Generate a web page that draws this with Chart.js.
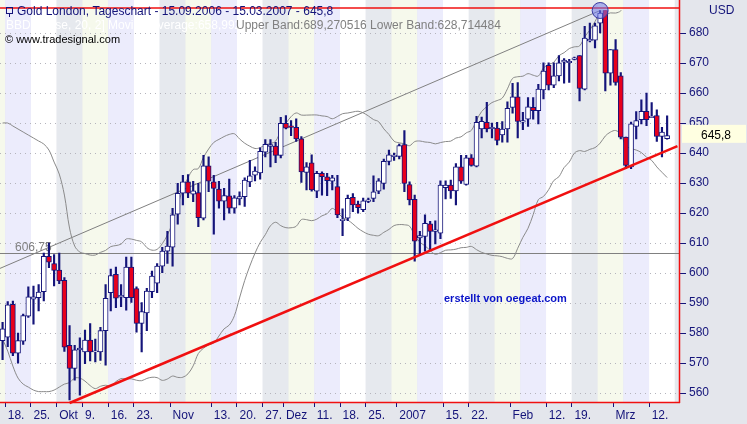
<!DOCTYPE html>
<html><head><meta charset="utf-8">
<script src="https://cdn.jsdelivr.net/npm/chart.js@4.4.1/dist/chart.umd.min.js"></script>
<style>html,body{margin:0;padding:0;background:#e4e6ec}canvas{display:block}</style>
</head><body>
<canvas id="c" width="747" height="424"></canvas>
<script>
const opens=[577.5,578.6,589.6,573.3,577.3,585.6,591.3,591.8,593.8,605.6,603.2,601,597.6,575.9,568.2,574.6,573.7,577.7,573.9,573.7,580.8,593.5,599.6,592.2,591.8,602,594.8,583.2,586.7,593.8,596.6,602.3,607.3,608.6,619.6,
626.6,630.4,626.3,626.8,618.3,635.7,630.4,628,624,625.7,621.6,624.7,625.5,630.4,632.6,633.4,640.3,642.2,642.3,639.2,649.9,648.9,648.6,644.7,633.5,636.7,627.3,633.2,632.1,630.6,628.8,617.5,
618.3,625.2,623,621.1,624.1,624.9,627.3,629.9,637.2,639,638.9,642.8,629.5,624.6,611.7,612.2,616.4,614.1,613.3,628.5,629.3,627.4,635.4,629.5,638.4,635.6,648,650.2,
648.3,648.3,646,648,655.2,658.7,
650.5,651.3,655.2,654.1,661,669.2,662.6,665.7,670.3,670.3,671.4,672.5,661.3,677.6,677.6,683.3,688.2,666.6,674.5,665.7,645.3,635.4,648.9,651.1,653.9,652,652.5,645.5,644.8];
const highs=[583.6,590.5,590.7,580,586.3,595.4,595.7,596.2,606.7,610,606.2,606.7,598.5,582.5,575.9,578.4,581,583.2,578,581.9,596.2,601.3,602,596.2,605.3,605.3,595.4,590.2,594.9,600.7,603.2,608.6,613.9,621.6,629.9,
632.6,632.8,630.6,629.9,639.2,638.7,632.6,630.6,628.2,631.3,625.8,627.1,631.7,637.6,635.4,641.7,644.5,644.5,643.6,651.9,652.5,650.8,651.4,645.5,636.8,639.4,633.9,633.7,633.2,632.6,632.6,621.4,
626,626.5,624,625,625,632.4,631.5,638,641,640,643,647.5,630.4,626,613.9,619.4,617.2,617.4,630.7,630.7,631,636.5,639.2,639.2,639.5,652.2,652,656.9,
650,650.2,650.5,657.1,663.2,663.5,
653.6,658.5,658.5,662.9,670.1,670.1,670.1,672.5,671.5,671.2,672,672.5,682.2,683.3,683.3,688.3,689,674.5,677.8,666.8,645.3,650.3,653.8,657.7,660,656.8,654.4,648.6,652.4];
const lows=[571.1,575.5,572.5,570,576.2,585.2,583,587.4,590.7,601.8,595.7,596.5,573.9,557.7,564.3,559.3,569.8,570.7,570.4,570.9,569.3,587.4,588.5,588.8,587.6,590.2,580.3,573.7,580.8,591.8,593.5,600.1,603.2,602.3,616.3,
622.7,625.1,623.8,615.5,617.7,627.1,613,621.6,617.7,620,620,622.7,622.2,628.8,630.7,631.3,638.7,635.4,636.8,638.4,648,645.8,643.9,630.2,627.7,627.3,625.1,626,625.8,627.7,618.5,612.5,
617.5,620.5,620,620.5,623.5,623.8,626.5,628,636,637.5,638,627.1,622.7,604,606,607.3,607.5,609.7,611.5,624.7,624.9,622.7,629.9,629.3,635.6,635.4,645,647,
645,642.7,643.6,643.6,653.3,645,
647.8,648.9,651.3,649.7,658,661,661.8,664,663.3,663.5,671,657.4,661,677,675,680,660.7,662.6,662.6,644.7,634.8,634.8,644.7,649.7,649.1,651.9,643.9,638.7,644.6];
const closes=[581.4,589.4,573.3,577.5,585.8,592.1,592.1,593.7,605.6,603.6,600.9,597.4,575.3,568.2,574.4,574.8,577.7,573.7,573.9,580.8,591.6,599.2,591.6,592.4,602,591.8,583.2,587.2,594,599,602.3,607.3,609,619.4,626.6,
630.4,626.6,627.4,618.5,635.7,630.6,628.2,624,625.8,621.6,625.1,625.5,631,632.4,634,640.6,642.9,642.8,639.2,649.9,648.3,648.7,644.7,633.7,635.4,627.7,633.2,632.1,630.8,631.7,619.4,617.9,
624.9,622.7,621.8,624.1,624.2,627.1,630.7,637.2,639.4,639.1,642.5,629.9,624.4,610.6,612.5,616.6,613.9,614.2,629.3,629.3,627.4,635.4,630.6,638.4,635.9,650.2,650.6,648,
648.4,644.2,648,654.9,658.7,650.5,
650.6,655.4,654.1,661.3,667.3,662.6,665.7,670.1,671,670.4,671.5,661.5,678.3,677.7,682.4,686.6,666.6,674.5,663.5,645.3,635.9,649.7,650.8,653.9,651.1,652.1,645.5,647,645.8];
// Bollinger band values for the first 19 days (before 20 closes exist)
const upperStart=[650,650,649,648,647,646,645,644,643,641,637,633,626,615,609,607,606.5,606,606];
const lowerStart=[578,574,569,565,563,562,561,560.5,560.5,560.5,561,562,563,563.5,565,565,564,562.5,561.5];
const tickLabels={'2006-09-18':'18.','2006-09-25':'25.','2006-10-02':'Okt','2006-10-09':'9.','2006-10-16':'16.','2006-10-23':'23.','2006-11-01':'Nov','2006-11-13':'13.','2006-11-20':'20.','2006-11-27':'27.','2006-12-01':'Dez','2006-12-11':'11.','2006-12-18':'18.','2006-12-25':'25.','2007-01-02':'2007','2007-01-15':'15.','2007-01-22':'22.','2007-02-01':'Feb','2007-02-12':'12.','2007-02-19':'19.','2007-03-01':'Mrz','2007-03-12':'12.'};
const yTicks=[560,565,570,575,580,585,590,595,600,605,610,615,620,625,630,635,640,645,650,655,660,665,670,675,680];
const hLevel=606.75, topLevel=688.3, lastValue='645,8';
const upperTrend=[[0,601.5],[116,687.5]];
const supportTrend=[[13,556.7],[131,642.3]];
const peakMark=[116,687.5];

const labels=[];const d=new Date(Date.UTC(2006,8,15));
while(labels.length<132){const w=d.getUTCDay();if(w>0&&w<6)labels.push(d.toISOString().slice(0,10));d.setUTCDate(d.getUTCDate()+1);}
const upper=[],lower=[];
for(let i=0;i<closes.length;i++){
  if(i<19){upper.push(upperStart[i]);lower.push(lowerStart[i]);continue;}
  const w=closes.slice(i-19,i+1);const m=w.reduce((a,b)=>a+b,0)/20;
  const sd=Math.sqrt(w.reduce((a,b)=>a+(b-m)*(b-m),0)/20);
  upper.push(m+2*sd);lower.push(m-2*sd);
}
const navy='#14147a';
const bodies=opens.map((o,i)=>{let a=Math.min(o,closes[i]),b=Math.max(o,closes[i]);if(b-a<0.35){a-=0.2;b+=0.2;}return [a,b];});
const wicks=lows.map((l,i)=>[l,highs[i]]);
const bodyColors=opens.map((o,i)=>closes[i]<o?'#e8001c':'#ffffff');

const deco={id:'deco',
beforeDraw(ch){const c=ch.ctx,a=ch.chartArea,x=ch.scales.x;
  c.save();c.fillStyle='#e4e6ec';c.fillRect(0,0,ch.width,ch.height);
  const cols=['#ececfc','#ffffff','#e6e9ee','#f6f9ec'];
  const half=(x.getPixelForValue(1)-x.getPixelForValue(0))/2;
  let start=a.left,wk=3;
  for(let i=0;i<=labels.length;i++){
    const isMon=i<labels.length&&new Date(labels[i]).getUTCDay()===1;
    if(isMon||i===labels.length){const e=i===labels.length?a.right:x.getPixelForValue(i)-half;
      c.fillStyle=cols[((wk%4)+4)%4];c.fillRect(start,0,e-start,a.bottom);start=e;wk++;}
  }
  c.restore();},
beforeDatasetsDraw(ch){const c=ch.ctx,a=ch.chartArea,x=ch.scales.x,y=ch.scales.y;
  c.save();
  c.strokeStyle='#808080';c.lineWidth=1;c.beginPath();const hy=Math.round(y.getPixelForValue(hLevel))+0.5;c.moveTo(a.left,hy);c.lineTo(a.right,hy);c.stroke();
  c.fillStyle='#808080';c.font='12px "Liberation Sans"';c.fillText('606,75',15,hy-3);
  c.beginPath();c.moveTo(x.getPixelForValue(upperTrend[0][0])-3,y.getPixelForValue(upperTrend[0][1]));c.lineTo(x.getPixelForValue(upperTrend[1][0]),y.getPixelForValue(upperTrend[1][1]));c.stroke();
  c.restore();},
afterDatasetsDraw(ch){const c=ch.ctx,a=ch.chartArea,x=ch.scales.x,y=ch.scales.y;
  c.save();
  c.strokeStyle='#f01010';c.lineWidth=2.5;c.beginPath();c.moveTo(x.getPixelForValue(supportTrend[0][0]),y.getPixelForValue(supportTrend[0][1]));c.lineTo(x.getPixelForValue(supportTrend[1][0]),y.getPixelForValue(supportTrend[1][1]));c.stroke();
  c.lineWidth=1.5;c.beginPath();const ty=Math.round(y.getPixelForValue(topLevel));c.moveTo(a.left,ty);c.lineTo(a.right,ty);c.stroke();
  c.beginPath();c.moveTo(a.right-0.5,0);c.lineTo(a.right-0.5,a.bottom);c.moveTo(a.left,a.bottom-0.5);c.lineTo(a.right,a.bottom-0.5);c.stroke();
  c.beginPath();c.arc(x.getPixelForValue(peakMark[0]),y.getPixelForValue(peakMark[1]),8,0,Math.PI*2);c.fillStyle='rgba(110,120,235,0.55)';c.fill();c.strokeStyle='#3a3aa0';c.lineWidth=1;c.stroke();
  c.fillStyle=navy;c.font='12px "Liberation Sans"';c.strokeStyle=navy;c.strokeRect(6.5,7.5,6,6);c.beginPath();c.moveTo(9.5,13.5);c.lineTo(9.5,17);c.stroke();
  c.fillText('Gold London, Tageschart - 15.09.2006 - 15.03.2007 - 645,8',17,15);
  c.fillStyle='#ffffff';c.fillText('BBD [Close, 20, 2] Moving Average:658,9925',6,29);
  c.fillStyle='#808080';c.fillText('Upper Band:689,270516 Lower Band:628,714484',236,29);
  c.fillStyle='#000';c.font='11px "Liberation Sans"';c.fillText('\u00a9 www.tradesignal.com',5,43);
  c.fillStyle='#0a14c8';c.font='bold 11px "Liberation Sans"';c.fillText('erstellt von oegeat.com',444,302);
  c.fillStyle=navy;c.font='12px "Liberation Sans"';c.fillText('USD',709,14);
  const ly=y.getPixelForValue(646.4);c.fillStyle='#ffffe1';c.fillRect(682,ly-9,64,18);c.fillStyle='#000';c.fillText(lastValue,701,ly+5);
  c.restore();}
};

new Chart(document.getElementById('c'),{
 data:{labels,datasets:[
  {type:'line',data:upper,borderColor:'#8a8a8a',borderWidth:1,pointRadius:0,tension:0.35,order:3},
  {type:'line',data:lower,borderColor:'#8a8a8a',borderWidth:1,pointRadius:0,tension:0.35,order:3},
  {type:'bar',data:wicks,backgroundColor:navy,barThickness:1.5,grouped:false,order:2},
  {type:'bar',data:bodies,backgroundColor:bodyColors,borderColor:navy,borderWidth:1,borderSkipped:false,barThickness:5,grouped:false,order:1}
 ]},
 options:{responsive:false,animation:false,devicePixelRatio:1,layout:{padding:0},
  plugins:{legend:{display:false},tooltip:{enabled:false}},
  scales:{
   x:{type:'category',offset:true,afterFit(s){s.height=21;},
     grid:{drawOnChartArea:false,tickLength:4,color:(ctx)=>tickLabels[labels[ctx.index]]?navy:'rgba(0,0,0,0)'},border:{display:false},
     ticks:{autoSkip:false,maxRotation:0,align:'start',padding:1,color:navy,font:{family:'Liberation Sans',size:12},callback:(v,i)=>tickLabels[labels[i]]||''}},
   y:{position:'right',min:556.7,max:687.6,afterFit(s){s.width=67;},
     afterBuildTicks(s){s.ticks=yTicks.map(v=>({value:v}));},
     grid:{color:'#b4b4bc',tickLength:6,tickColor:navy},border:{display:false,dash:[1,4]},
     ticks:{padding:3,color:navy,font:{family:'Liberation Sans',size:12},callback:v=>String(v)}}
  }},
 plugins:[deco]
});
</script></body></html>
